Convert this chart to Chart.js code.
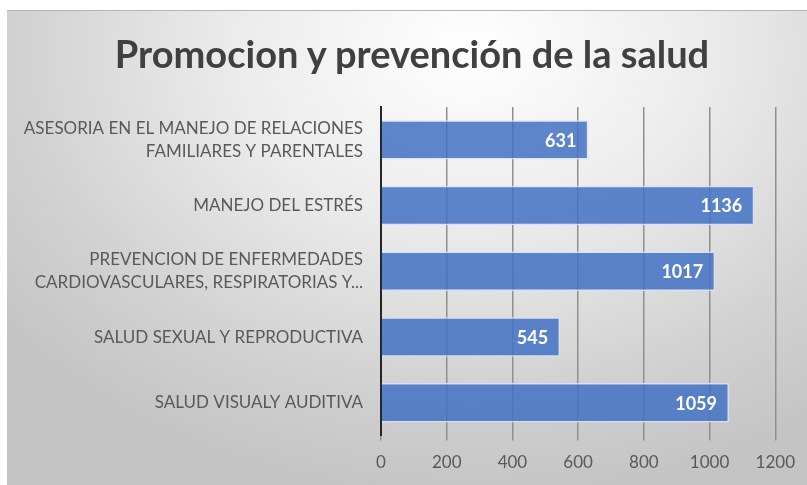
<!DOCTYPE html>
<html>
<head>
<meta charset="utf-8">
<script src="https://cdn.jsdelivr.net/npm/chart.js@4/dist/chart.umd.min.js"></script>
<style>
    html, body { margin: 0; padding: 0; background: #fff; }
    #frame {
        position: absolute; left: 7px; top: 10px; width: 800px; height: 475px;
        border-top: 1px solid #b4b4b4;
        box-sizing: border-box;
        background: radial-gradient(ellipse 75% 95% at 58% 8%, #ffffff 0%, #ebebeb 40%, #d2d2d2 75%, #c4c4c4 100%);
    }
    #title {
        position: absolute; left: 5px; top: 19px; width: 800px;
        text-align: center;
        font: bold 38px/46px Lato, "Open Sans", sans-serif;
        color: #404040;
    }
    canvas { display: block; position: absolute; left: 0; top: 0; }
</style>
</head>
<body>
<div id="frame">
    <canvas id="chart" width="800" height="474"></canvas>
    <div id="title">Promocion y prevención de la salud</div>
</div>
<script>
    const categories = [
        ['ASESORIA EN EL MANEJO DE RELACIONES', 'FAMILIARES Y PARENTALES'],
        'MANEJO DEL ESTRÉS',
        ['PREVENCION DE ENFERMEDADES', 'CARDIOVASCULARES, RESPIRATORIAS Y...'],
        'SALUD SEXUAL Y REPRODUCTIVA',
        'SALUD VISUALY AUDITIVA'
    ];
    const values = [631, 1136, 1017, 545, 1059];
    const xTicks = [0, 200, 400, 600, 800, 1000, 1200];

    const FONT = 'Lato, "Open Sans", sans-serif';

    // white value labels drawn at the inner end of each bar
    const barLabels = {
        id: 'barLabels',
        afterDatasetsDraw(chart) {
            const ctx = chart.ctx;
            const meta = chart.getDatasetMeta(0);
            ctx.save();
            ctx.fillStyle = '#ffffff';
            ctx.font = 'bold 18px ' + FONT;
            ctx.textAlign = 'right';
            ctx.textBaseline = 'middle';
            meta.data.forEach((bar, i) => {
                ctx.fillText(String(values[i]), bar.x - 12, bar.y + 1);
            });
            ctx.restore();
        }
    };

    new Chart(document.getElementById('chart'), {
        type: 'bar',
        data: {
            labels: categories,
            datasets: [{
                data: values,
                backgroundColor: 'rgba(68, 114, 196, 0.86)',
                borderColor: 'rgba(215, 226, 244, 0.9)',
                borderWidth: 1.5,
                categoryPercentage: 1,
                barPercentage: 0.6
            }]
        },
        options: {
            indexAxis: 'y',
            responsive: false,
            animation: false,
            layout: { padding: { left: 0, right: 30, top: 96, bottom: 0 } },
            plugins: {
                legend: { display: false },
                tooltip: { enabled: false },
                title: { display: false }
            },
            scales: {
                x: {
                    min: 0,
                    max: 1200,
                    afterBuildTicks(scale) { scale.ticks = xTicks.map(v => ({ value: v })); },
                    grid: { color: '#8f8f8f', lineWidth: 1.5, tickLength: 5, drawTicks: true },
                    border: { display: false },
                    ticks: {
                        color: '#595959',
                        font: { family: FONT, size: 17 },
                        padding: 12,
                        callback: v => String(v)
                    }
                },
                y: {
                    afterFit(scale) { scale.width = 374; },
                    grid: { display: false, drawTicks: false },
                    border: { display: true, color: '#262626', width: 2 },
                    ticks: { color: '#595959', font: { family: FONT, size: 17, lineHeight: 1.35 }, padding: 18 }
                }
            }
        },
        plugins: [barLabels]
    });
</script>
</body>
</html>
